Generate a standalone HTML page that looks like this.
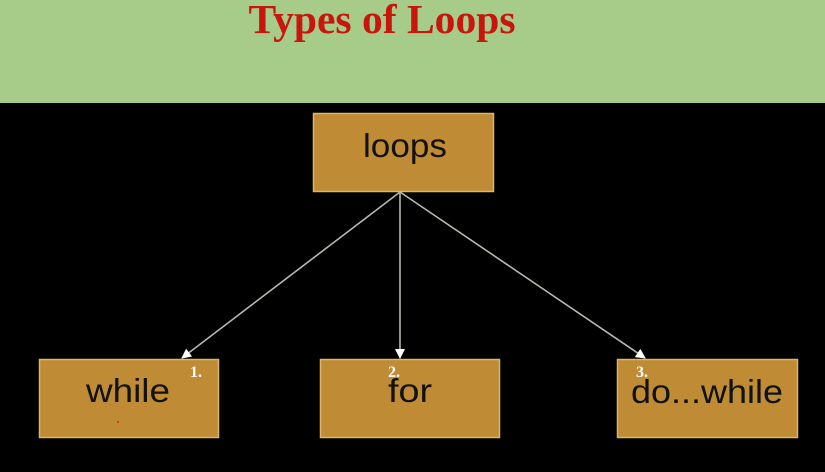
<!DOCTYPE html>
<html><head><meta charset="utf-8"><style>
html,body{margin:0;padding:0;width:825px;height:472px;overflow:hidden;background:#000}
</style></head><body>
<svg width="825" height="472" viewBox="0 0 825 472" xmlns="http://www.w3.org/2000/svg">
<defs><marker id="a" markerWidth="10" markerHeight="10" refX="9" refY="5" orient="auto" markerUnits="userSpaceOnUse"><path d="M0,0 L10,5 L0,10 z" fill="#fff"/></marker></defs>
<rect x="0" y="0" width="825" height="103" fill="#a7cc8a"/>
<rect x="0" y="103" width="825" height="369" fill="#000"/>
<text x="382" y="33" text-anchor="middle" font-family="Liberation Serif, serif" font-weight="bold" font-size="41" fill="#c8160c" textLength="267" lengthAdjust="spacingAndGlyphs">Types of Loops</text>
<g stroke="#b8b8b0" stroke-width="1.6" fill="none">
<line x1="400" y1="192" x2="182" y2="358" marker-end="url(#a)"/>
<line x1="400" y1="192" x2="400" y2="358" marker-end="url(#a)"/>
<line x1="400" y1="192" x2="645" y2="358" marker-end="url(#a)"/>
</g>
<g fill="#bf8b35" stroke="#dcb46c" stroke-width="1.5">
<rect x="313.5" y="113.5" width="180" height="78"/>
<rect x="39.5" y="359.5" width="179" height="78"/>
<rect x="320.5" y="359.5" width="179" height="78"/>
<rect x="617.5" y="359.5" width="180" height="78"/>
</g>
<g font-family="Liberation Sans, sans-serif" font-size="33" fill="#111">
<text x="363" y="157" textLength="84" lengthAdjust="spacingAndGlyphs">loops</text>
<text x="86" y="402" textLength="84" lengthAdjust="spacingAndGlyphs">while</text>
<text x="388" y="402" textLength="44" lengthAdjust="spacingAndGlyphs">for</text>
<text x="631" y="403" textLength="152" lengthAdjust="spacingAndGlyphs">do...while</text>
</g>
<g font-family="Liberation Serif, serif" font-weight="bold" font-size="16" fill="#fff">
<text x="190" y="377">1.</text>
<text x="388" y="377">2.</text>
<text x="636" y="377">3.</text>
</g>
<circle cx="118" cy="422" r="1.2" fill="#e33"/>
</svg>
</body></html>
